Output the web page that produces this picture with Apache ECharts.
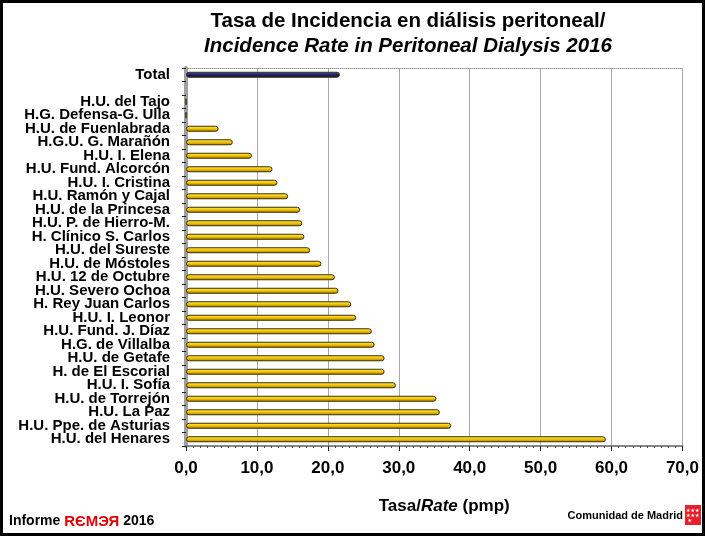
<!DOCTYPE html>
<html>
<head>
<meta charset="utf-8">
<script src="https://cdn.jsdelivr.net/npm/echarts@6/dist/echarts.min.js"></script>
<style>
  html, body { margin: 0; padding: 0; background: #fff; }
  #main { width: 699px; height: 530px; border: 3px solid #000; }
</style>
</head>
<body>
<div id="main"></div>
<script>
// hospitales, de arriba abajo
var hospitals = ['Total', '', 'H.U. del Tajo', 'H.G. Defensa-G. Ulla', 'H.U. de Fuenlabrada',
  'H.G.U. G. Marañón', 'H.U. I. Elena', 'H.U. Fund. Alcorcón', 'H.U. I. Cristina',
  'H.U. Ramón y Cajal', 'H.U. de la Princesa', 'H.U. P. de Hierro-M.', 'H. Clínico S. Carlos',
  'H.U. del Sureste', 'H.U. de Móstoles', 'H.U. 12 de Octubre', 'H.U. Severo Ochoa',
  'H. Rey Juan Carlos', 'H.U. I. Leonor', 'H.U. Fund. J. Díaz', 'H.G. de Villalba',
  'H.U. de Getafe', 'H. de El Escorial', 'H.U. I. Sofía', 'H.U. de Torrejón',
  'H.U. La Paz', 'H.U. Ppe. de Asturias', 'H.U. del Henares'];

// tasa pmp
var rates = [21.7, null, 0, 0, 4.6,
  6.6, 9.3, 12.2, 12.9,
  14.4, 16.1, 16.4, 16.7,
  17.5, 19.1, 21.0, 21.5,
  23.3, 24.0, 26.2, 26.6,
  28.0, 28.0, 29.6, 35.3,
  35.8, 37.4, 59.2];

var xTicks = [0, 10, 20, 30, 40, 50, 60, 70];

var yellow = new echarts.graphic.LinearGradient(0, 0, 0, 1, [
  { offset: 0, color: '#fff27a' },
  { offset: 0.45, color: '#f5c800' },
  { offset: 1, color: '#a87c00' }
]);
var navy = new echarts.graphic.LinearGradient(0, 0, 0, 1, [
  { offset: 0, color: '#5a5ab0' },
  { offset: 0.45, color: '#22226e' },
  { offset: 1, color: '#101040' }
]);

var barData = rates.map(function (v, i) {
  return {
    value: v,
    itemStyle: { color: i === 0 ? navy : yellow }
  };
});

var font = 'Liberation Sans, Arial, sans-serif';

var myChart = echarts.init(document.getElementById('main'));
myChart.setOption({
  animation: false,
  textStyle: { fontFamily: font },
  title: {
    text: 'Tasa de Incidencia en diálisis peritoneal/\n{i|Incidence Rate in Peritoneal Dialysis 2016}',
    left: 400,
    top: 1,
    textAlign: 'center',
    textStyle: {
      fontSize: 20.5,
      fontWeight: 'bold',
      color: '#000',
      lineHeight: 25,
      rich: {
        i: { fontSize: 20.5, fontWeight: 'bold', fontStyle: 'italic', color: '#000', lineHeight: 25 }
      }
    }
  },
  grid: { left: 183, right: 16, top: 65, bottom: 87, containLabel: false },
  xAxis: [{
    type: 'value',
    min: xTicks[0],
    max: xTicks[xTicks.length - 1],
    interval: 10,
    name: 'Tasa/{i|Rate} (pmp)',
    nameLocation: 'middle',
    nameGap: 52,
    nameTextStyle: {
      fontSize: 17, fontWeight: 'bold', color: '#000',
      padding: [0, 0, 0, 20],
      rich: { i: { fontSize: 17, fontWeight: 'bold', fontStyle: 'italic', color: '#000' } }
    },
    axisLine: { show: true, lineStyle: { color: '#888', width: 2 } },
    axisTick: { show: true, length: 5, lineStyle: { color: '#222' } },
    minorTick: { show: true, splitNumber: 10, length: 2, lineStyle: { color: '#444' } },
    axisLabel: {
      fontSize: 17, fontWeight: 'bold', color: '#000', margin: 14,
      formatter: function (v) { return v.toFixed(1).replace('.', ','); }
    },
    splitLine: { show: true, lineStyle: { color: '#a8a8a8', width: 1 } }
  }, {
    type: 'value',
    position: 'top',
    min: 0, max: 70,
    axisLine: { show: true, lineStyle: { color: '#999', type: 'dotted', width: 1 } },
    axisTick: { show: false },
    axisLabel: { show: false },
    splitLine: { show: false }
  }],
  yAxis: {
    type: 'category',
    inverse: true,
    data: hospitals,
    axisLine: { show: true, lineStyle: { color: '#a0a0a0', width: 4 } },
    axisTick: { show: true, length: 4, lineStyle: { color: '#222' } },
    axisLabel: {
      fontSize: 15, fontWeight: 'bold', color: '#000', margin: 16,
      interval: 0
    }
  },
  series: [{
    type: 'bar',
    data: barData,
    barWidth: 6,
    itemStyle: { borderColor: '#3a3000', borderWidth: 1, borderRadius: 3 }
  }],
  graphic: [
    {
      type: 'text', left: 6, bottom: 4,
      style: {
        text: 'Informe {r|RЄMЭЯ} 2016',
        font: 'bold 14px ' + font,
        fill: '#000',
        rich: { r: { fill: '#e00000', font: 'bold 15px ' + font } }
      }
    },
    {
      type: 'text', right: 19, bottom: 12,
      style: { text: 'Comunidad de Madrid', font: 'bold 11px ' + font, fill: '#000' }
    },
    {
      type: 'group', right: 1, bottom: 8,
      children: [
        { type: 'rect', shape: { x: 0, y: 0, width: 16, height: 20 }, style: { fill: '#e8202a' } },
        {
          type: 'text', x: 1, y: 3,
          style: { text: '★★★\n★★★\n ★', font: '5px DejaVu Sans', fill: '#fff', lineHeight: 5 }
        }
      ]
    }
  ]
});
</script>
</body>
</html>
